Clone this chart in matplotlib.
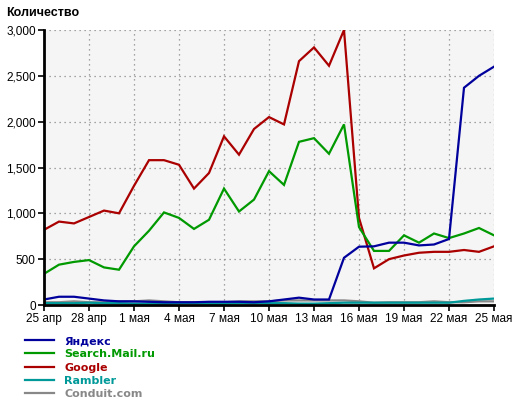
import matplotlib
matplotlib.use("Agg")
import matplotlib.pyplot as plt
from matplotlib.ticker import FuncFormatter

days = list(range(31))  # 25 апр .. 25 мая
tick_labels = ["25 апр", "28 апр", "1 мая", "4 мая", "7 мая", "10 мая",
               "13 мая", "16 мая", "19 мая", "22 мая", "25 мая"]

yandex = [60, 90, 90, 70, 50, 40, 40, 35, 30, 30, 30, 35, 35, 35, 30, 40,
          60, 80, 60, 60, 515, 636, 640, 680, 680, 650, 660, 720, 2370, 2500, 2600]
mail = [340, 440, 470, 490, 410, 385, 640, 810, 1010, 950, 830, 930, 1270, 1020,
        1150, 1460, 1310, 1780, 1820, 1650, 1970, 850, 590, 590, 760, 680, 780,
        730, 780, 840, 760]
google = [820, 910, 890, 960, 1030, 1000, 1300, 1580, 1580, 1530, 1270, 1440,
          1840, 1640, 1920, 2050, 1970, 2660, 2810, 2610, 3000, 950, 400, 500,
          540, 570, 580, 580, 600, 580, 640]
rambler = [20, 20, 20, 25, 20, 20, 15, 15, 15, 20, 20, 15, 15, 20, 20, 20, 20,
           15, 15, 20, 25, 25, 25, 25, 25, 25, 25, 25, 45, 60, 70]
conduit = [30, 30, 40, 30, 30, 40, 40, 50, 40, 30, 30, 30, 30, 40, 40, 40, 50,
           50, 50, 50, 50, 40, 25, 30, 30, 30, 40, 30, 30, 40, 40]

series = [("Яндекс", yandex, "#00009c"),
          ("Search.Mail.ru", mail, "#009900"),
          ("Google", google, "#aa0000"),
          ("Rambler", rambler, "#009999"),
          ("Conduit.com", conduit, "#888888")]

fig = plt.figure(figsize=(5.2, 4.05), dpi=100)
ax = fig.add_axes([44 / 520, 1 - 305 / 405, 450 / 520, 275 / 405])
ax.set_facecolor("#f5f5f5")

handles = []
for name, vals, col in reversed(series):
    h, = ax.plot(days, vals, color=col, lw=1.6, label=name, solid_joinstyle="miter")
    handles.append(h)
handles = handles[::-1]

ax.set_xlim(0, 30)
ax.set_ylim(0, 3000)
ax.set_xticks(range(0, 31, 3))
ax.set_xticklabels(tick_labels)
ax.set_yticks(range(0, 3001, 500))
ax.yaxis.set_major_formatter(FuncFormatter(lambda v, p: f"{int(v):,}"))
ax.grid(True, color="#888888", linestyle=(0, (1, 3)), lw=0.9)
for s in ["top", "right"]:
    ax.spines[s].set_visible(False)
for s in ["left", "bottom"]:
    ax.spines[s].set_linewidth(2)
    ax.spines[s].set_color("black")
ax.tick_params(direction="out", length=4, width=1.2, labelsize=8.5, pad=2)
for lab in ax.get_xticklabels() + ax.get_yticklabels():
    lab.set_fontfamily("Liberation Sans")

fig.text(6 / 520, 1 - 13 / 405, "Количество", fontsize=9, fontweight="bold",
         family="Liberation Sans", va="center", ha="left")

leg = fig.legend(handles=handles, labels=[s[0] for s in series],
                 loc="upper left", bbox_to_anchor=(25 / 520, 1 - 336 / 405),
                 frameon=False, handlelength=2.6, handletextpad=0.95,
                 labelspacing=0.3, borderpad=0, borderaxespad=0,
                 prop={"family": "DejaVu Sans", "weight": "bold", "size": 8})
for t, (_, _, col) in zip(leg.get_texts(), series):
    t.set_color(col)

fig.savefig("out.png", dpi=100)
